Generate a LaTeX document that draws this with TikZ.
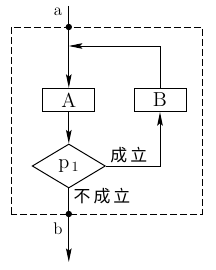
\documentclass[tikz,border=0pt]{standalone}
\usepackage{fontspec}
\newfontfamily\cjk[LetterSpace=18]{Noto Sans CJK SC}
\usetikzlibrary{arrows.meta, positioning, shapes.geometric, calc}
\tikzset{
  box/.style={draw=black, rectangle, minimum width=1.3cm, minimum height=0.58cm, inner sep=0pt, line width=0.7pt, font=\Large},
  cond/.style={draw=black, diamond, aspect=1.66, minimum width=1.83cm, minimum height=1.1cm, inner sep=0pt, line width=0.7pt, font=\Large},
  dot/.style={circle, fill=black, inner sep=0pt, minimum size=0.16cm},
  lbl/.style={inner sep=1pt, font=\large},
  arrow/.style={-{Stealth[length=3.4mm, width=1.4mm, inset=0.6mm]}, line width=0.7pt, draw=black},
  line/.style={line width=0.7pt, draw=black},
  frame/.style={line width=0.7pt, draw=black, dash pattern=on 1.7mm off 0.8mm}
}

\begin{document}
\begin{tikzpicture}
\useasboundingbox (0,0) rectangle (5.4,6.75);

% dashed border of the loop
\draw[frame] (0.275,1.4) rectangle (5.05,6.075);

\coordinate (top) at (1.72,6.6);
\node[dot] (ina) at (1.72,6.075) {};
\coordinate (join) at (1.72,5.6);
\node[box] (A) at (1.72,4.25) {A};
\node[box] (B) at (4.0,4.25) {B};
\node[cond] (p1) at (1.72,2.6) {$\mathrm{p}_{\,1}$};
\node[dot] (outb) at (1.72,1.4) {};
\coordinate (bot) at (1.72,0.2);

\node[lbl] (la) at (1.45,6.45) {a};
\node[lbl] (lb) at (1.45,1.02) {b};
\node[lbl] (yes) at (3.22,2.88) {\cjk 成立};
\node[lbl] (no) at (2.55,1.85) {\cjk 不成立};

\draw[line] (top) -- (ina);
\draw[line] (ina) -- (join);
\draw[arrow] (join) -- (A);
\draw[arrow] (A) -- (p1);
\draw[arrow] (p1.east) -| (B.south);
\draw[arrow] (B.north) |- (join);
\draw[line] (p1.south) -- (outb);
\draw[arrow] (outb) -- (bot);

\end{tikzpicture}
\end{document}
